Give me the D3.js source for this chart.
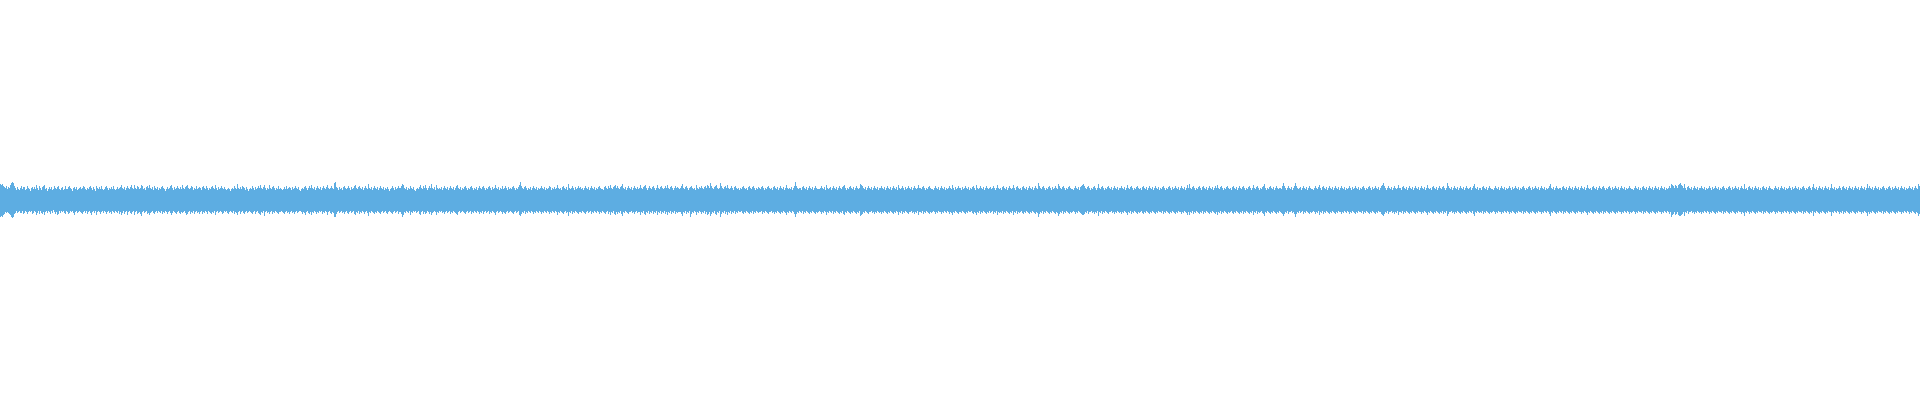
<!DOCTYPE html>
<html>
<head>
<meta charset="utf-8">
<script src="https://cdn.jsdelivr.net/npm/d3@7"></script>
<style>
  html, body { margin: 0; padding: 0; background: #ffffff; overflow: hidden; }
</style>
</head>
<body>
<div id="container"></div>
<script>
// peak amplitude per pixel column, above the centre line
const peakTop = [
  16,15,16,14,13,12,14,11,13,12, 15,17,18,17,14,12,10,13,11,10, 12,14,11,13,13,10,11,14,12,11, 9,12,13,11,13,11,15,12,10,14,
  12,10,13,14,15,11,12,9,11,13, 11,13,10,11,14,12,11,13,14,11, 10,12,13,10,11,14,11,11,13,14, 12,11,9,12,13,11,13,10,11,12,
  13,11,12,14,13,11,10,12,11,13, 14,12,10,13,11,9,14,12,11,13, 11,14,11,10,11,13,14,12,10,12, 11,13,11,14,11,10,11,13,11,12,
  13,15,12,11,13,10,12,14,12,11, 13,15,12,11,15,12,11,14,13,11, 12,15,14,11,12,10,13,14,12,15, 12,11,13,10,14,12,11,13,10,12,
  11,13,14,12,11,9,11,13,11,12, 14,15,12,10,13,11,12,14,12,11, 13,11,15,12,11,13,14,15,12,11, 12,14,13,10,12,11,14,11,12,13,
  12,10,13,14,12,11,14,12,10,12, 11,13,14,12,11,15,12,10,13,11, 12,14,12,11,13,11,10,11,12,11, 9,11,12,11,14,12,11,16,12,11,
  13,11,14,13,12,10,13,11,9,11, 12,11,14,12,10,13,11,12,14,12, 15,12,11,13,15,12,10,12,11,15, 12,11,13,14,12,10,12,11,14,11,
  12,11,10,11,13,11,14,11,12,13, 12,10,13,11,12,14,12,11,13,10, 9,11,12,11,13,14,12,10,12,14, 12,15,12,11,13,10,12,14,12,11,
  13,10,12,14,12,11,13,15,12,11, 12,14,12,11,17,18,13,12,10,13, 11,12,10,13,14,12,11,12,14,12, 10,13,11,12,14,15,12,11,13,14,
  12,11,13,10,12,14,12,11,16,12, 11,13,10,12,14,12,11,13,10,12, 14,12,11,13,10,12,11,13,11,9, 11,12,14,12,10,13,11,12,14,12,
  12,14,16,15,12,11,13,10,12,11, 14,12,11,13,10,9,11,12,11,13, 15,12,11,14,12,15,12,10,12,14, 12,16,12,11,13,10,15,12,11,12,
  11,13,10,12,14,12,11,13,10,12, 14,12,11,13,10,12,14,15,12,11, 13,10,12,11,13,14,12,10,12,11, 13,14,12,10,12,11,13,10,12,14,
  12,11,13,14,12,10,12,11,13,14, 12,10,13,11,12,15,12,11,13,10, 12,11,14,11,12,14,12,10,13,11, 12,11,13,14,12,10,12,11,13,15,
  18,14,12,11,13,14,12,10,12,11, 13,10,12,14,12,11,13,10,12,11, 12,14,12,11,13,10,12,11,12,14, 13,10,12,11,13,11,12,15,12,11,
  12,10,13,14,12,11,13,10,16,12, 11,12,14,12,10,13,11,12,14,12, 13,11,12,10,12,14,12,11,13,10, 12,14,12,11,13,10,12,11,13,14,
  12,11,11,10,13,14,12,11,14,12, 15,12,11,13,14,15,12,14,12,11, 13,14,16,12,11,13,10,12,14,12, 11,13,10,12,14,12,11,13,11,12,
  15,12,11,13,14,15,12,10,12,14, 12,11,13,14,12,10,12,15,12,11, 13,14,12,11,12,14,12,15,12,11, 13,14,12,10,12,14,12,13,12,11,
  12,14,16,12,11,13,14,12,10,12, 13,14,12,11,12,10,15,12,11,13, 12,14,12,11,13,14,12,15,14,12, 17,14,12,11,13,14,15,12,11,12,
  17,14,12,11,13,14,12,15,12,11, 12,14,12,10,13,14,12,11,12,10, 12,11,13,14,12,11,12,10,13,14, 12,11,13,14,12,10,12,11,13,12,
  11,13,14,12,10,12,11,13,14,12, 11,12,10,13,14,12,11,13,10,12, 14,12,11,13,10,12,15,12,11,12, 11,13,10,12,14,18,14,12,11,12,
  12,10,13,14,12,11,13,10,12,14, 12,11,13,10,12,14,12,11,11,11, 12,14,12,11,13,10,15,12,11,12, 13,10,12,14,12,11,13,10,12,14,
  12,11,13,14,15,12,10,12,11,13, 14,12,11,13,10,12,14,12,11,12, 16,15,14,12,11,13,10,12,14,12, 11,13,10,12,14,12,11,13,10,12,
  12,14,12,11,13,10,12,14,12,11, 13,10,12,14,12,11,13,10,15,12, 11,12,14,12,10,13,11,12,14,12, 11,13,10,12,14,12,11,12,15,12,
  12,11,13,14,12,10,12,11,13,14, 12,11,11,10,12,14,12,11,13,10, 12,14,12,11,13,10,12,11,12,14, 12,11,15,12,10,13,11,12,14,12,
  12,10,13,11,12,14,12,11,13,10, 12,11,13,14,12,10,15,12,11,12, 14,12,11,13,10,12,14,12,11,12, 13,11,12,14,12,10,12,15,12,11,
  12,10,13,14,12,11,13,10,12,14, 12,11,12,15,12,10,13,14,12,11, 12,10,13,14,12,11,13,10,12,14, 12,11,13,10,12,14,12,11,17,14,
  12,11,13,14,12,10,12,11,13,14, 12,10,13,11,12,14,12,11,16,14, 12,11,13,14,12,10,12,11,13,14, 12,11,11,10,12,14,12,11,13,10,
  13,14,15,16,14,12,11,13,14,12, 10,12,11,13,14,12,10,12,16,12, 11,13,14,12,10,12,11,13,14,12, 11,13,10,12,14,12,11,13,10,12,
  12,14,12,11,13,10,12,15,12,11, 13,14,12,10,12,11,13,14,12,11, 12,10,13,14,12,11,13,10,12,14, 12,11,13,10,12,14,12,11,13,10,
  12,11,13,14,12,10,12,11,13,14, 12,10,13,11,12,14,12,11,13,10, 12,14,12,11,13,10,12,15,12,16, 12,11,13,14,12,10,12,11,13,14,
  12,10,13,14,12,11,13,10,12,14, 12,11,13,10,12,14,12,15,12,11, 13,14,12,10,12,11,13,14,12,11, 12,10,13,14,12,11,13,10,12,14,
  12,11,13,14,12,10,12,11,13,14, 12,10,12,15,12,11,13,14,12,10, 12,11,13,14,16,12,10,12,11,13, 14,12,11,13,10,12,14,12,11,12,
  12,11,14,17,14,12,10,12,14,12, 11,13,10,12,14,17,14,12,11,12, 13,10,12,14,12,11,13,10,12,14, 12,11,11,10,12,14,12,11,13,15,
  12,10,13,14,12,11,13,10,12,14, 12,11,13,10,12,14,12,11,13,10, 12,14,12,11,13,10,12,11,12,14, 12,10,13,11,12,14,12,11,13,10,
  12,11,13,14,12,10,12,11,13,14, 12,10,13,11,12,14,12,11,13,10, 12,14,15,17,14,12,10,12,14,12, 11,13,10,12,14,12,11,12,15,12,
  12,10,13,14,12,11,13,10,12,14, 12,11,13,10,12,14,12,11,13,10, 12,14,12,11,13,10,12,15,12,11, 12,10,13,14,12,11,13,10,12,14,
  12,11,13,14,12,10,12,17,14,12, 11,13,10,12,14,12,11,13,10,12, 14,12,11,13,10,12,14,12,11,12, 13,10,12,14,16,12,11,13,10,12,
  12,10,13,14,12,11,13,10,12,14, 12,11,11,10,12,14,12,11,13,10, 12,14,12,11,13,10,12,11,12,14, 12,10,13,11,12,14,12,11,13,10,
  12,11,13,14,12,10,12,11,13,14, 12,10,13,11,12,14,12,11,13,10, 12,14,12,11,13,10,12,11,12,14, 16,12,11,13,10,12,14,12,11,12,
  12,10,13,14,12,11,13,10,12,14, 12,11,13,10,12,14,12,11,13,10, 12,14,12,11,13,10,12,15,12,11, 12,10,13,14,12,11,13,10,12,14,
  12,11,13,14,12,10,12,11,13,14, 12,10,13,11,12,14,12,11,13,10, 12,14,12,11,13,10,12,11,12,14, 12,11,11,10,12,14,12,11,13,10,
  12,10,13,14,12,11,13,10,12,14, 12,11,13,10,12,14,12,11,13,10, 12,14,12,11,13,10,12,11,12,14, 12,16,15,14,12,15,14,12,15,16,
  17,15,14,12,16,12,10,13,14,12, 11,13,10,12,14,12,11,13,10,12, 12,14,12,11,13,10,12,11,12,14, 12,10,13,11,12,14,12,11,13,10,
  12,11,13,14,12,10,12,11,13,14, 12,10,13,11,12,14,12,11,13,10, 12,14,12,11,16,11,12,10,13,14, 12,11,13,10,12,14,12,11,13,10,
  12,10,13,14,12,11,13,10,12,14, 12,11,11,10,12,14,12,11,13,10, 12,14,12,11,13,10,12,11,12,14, 12,10,13,11,12,14,12,11,13,10,
  12,11,13,14,12,10,12,11,13,14, 12,10,13,16,12,11,13,10,12,14, 12,11,13,10,12,14,12,11,13,10, 12,16,12,11,13,10,12,11,12,14,
  12,10,13,14,12,11,13,10,12,14, 12,11,13,10,12,14,12,11,13,10, 12,14,12,11,13,10,12,16,12,14, 12,11,13,10,12,14,12,11,13,10,
  12,11,13,14,12,10,12,11,13,14, 12,10,13,11,12,14,12,11,13,10, 12,14,12,11,13,10,12,11,12,14, 12,11,13,10,12,14,12,11,16,14
];

// peak amplitude per pixel column, below the centre line
const peakBottom = [
  17,16,17,15,14,12,13,12,13,14, 15,17,18,17,14,13,11,13,12,11, 13,13,11,14,13,11,12,14,12,11, 12,11,14,13,11,12,15,13,11,14,
  11,13,14,12,15,12,11,13,11,12, 14,11,13,10,12,14,12,15,14,11, 13,11,12,11,13,14,11,12,14,13, 11,12,11,13,15,12,11,13,12,11,
  12,13,14,12,11,13,11,14,12,11, 13,15,12,11,13,11,15,12,11,12, 14,12,11,13,11,12,14,12,11,13, 12,14,11,12,13,11,12,13,11,14,
  12,15,13,11,14,12,11,15,12,11, 13,14,12,11,15,12,11,14,13,12, 14,16,12,11,13,12,11,14,13,15, 13,12,11,13,14,12,11,13,11,12,
  13,11,14,12,13,11,12,14,12,11, 13,15,13,11,12,13,14,12,11,13, 14,12,13,12,11,13,15,14,12,11, 14,12,13,11,14,12,11,13,12,14,
  12,11,14,12,13,11,12,14,11,12, 13,14,12,13,11,15,12,11,13,12, 11,12,14,13,11,12,11,13,14,12, 11,12,13,11,14,12,13,15,12,11,
  14,12,11,13,14,12,11,13,12,11, 12,13,14,12,11,14,12,11,13,14, 15,12,13,11,16,12,11,13,12,14, 12,11,14,12,13,11,12,13,14,12,
  12,11,12,13,14,12,11,13,12,14, 12,11,13,12,14,12,11,13,12,11, 11,12,14,12,13,15,12,11,13,14, 12,15,12,13,11,12,14,12,13,11,
  12,11,14,12,13,11,12,15,12,11, 13,14,12,13,17,17,14,12,11,13, 12,11,13,12,14,12,11,13,14,12, 11,13,12,11,14,15,12,13,11,14,
  12,13,11,12,14,12,11,13,16,12, 13,11,12,13,14,12,13,11,12,13, 14,12,11,13,12,11,13,14,12,11, 12,13,14,12,11,13,12,11,14,12,
  12,14,17,15,12,13,11,12,13,11, 15,12,13,11,12,11,13,12,11,14, 15,12,11,14,12,14,13,11,12,14, 12,15,13,12,11,12,15,12,13,11,
  12,11,13,12,14,12,11,13,12,11, 14,12,13,11,12,13,14,15,12,11, 13,12,11,12,13,14,12,11,13,12, 11,14,12,13,11,12,13,11,12,14,
  12,13,11,14,12,11,13,12,11,14, 12,13,11,12,13,15,12,11,13,12, 11,12,14,12,13,14,12,11,13,12, 11,12,13,14,12,11,13,12,11,15,
  16,14,12,13,11,14,12,13,11,12, 13,11,12,14,12,13,11,12,13,11, 12,14,12,13,11,12,13,11,12,14, 12,13,11,12,13,11,12,15,12,13,
  11,12,13,14,12,11,13,12,16,12, 13,11,14,12,13,11,12,13,14,12, 12,13,11,12,13,14,12,11,13,12, 11,14,12,13,11,12,13,11,12,14,
  12,13,11,12,13,14,12,11,14,12, 15,12,13,11,14,15,12,14,12,13, 11,14,16,12,13,11,12,13,14,12, 12,11,13,12,14,12,11,13,12,12,
  15,12,13,11,14,15,12,13,11,14, 12,13,11,14,12,13,11,15,12,13, 11,14,12,13,11,14,12,15,12,13, 11,14,12,13,11,14,12,13,12,12,
  12,14,16,12,13,11,14,12,13,11, 17,14,12,13,11,12,15,12,13,11, 12,14,12,13,11,14,12,15,14,12, 16,14,12,13,11,14,15,12,13,11,
  17,14,12,13,11,14,12,15,12,13, 11,14,12,13,11,14,12,13,11,12, 12,11,13,14,12,13,11,12,13,14, 12,13,11,14,12,13,11,12,13,12,
  12,11,14,12,13,11,12,13,14,12, 12,11,13,12,14,12,13,11,12,13, 14,12,13,11,12,13,15,12,13,11, 12,13,11,12,14,17,14,12,13,11,
  12,13,11,14,12,13,11,12,13,14, 12,13,11,12,13,14,12,13,12,11, 12,14,12,13,11,12,15,12,13,11, 12,13,11,14,12,13,11,12,13,14,
  12,13,11,14,15,12,13,11,12,13, 14,12,13,11,12,13,14,12,13,11, 16,15,14,12,13,11,12,13,14,12, 12,11,13,12,14,12,13,11,12,13,
  12,14,12,13,11,12,13,14,12,13, 11,12,13,14,12,13,11,12,15,12, 13,11,14,12,13,11,12,13,14,12, 12,11,13,12,14,12,13,11,15,12,
  12,13,11,14,12,13,11,12,13,14, 12,13,12,11,12,14,12,13,11,12, 12,14,12,13,11,12,13,11,12,14, 12,13,15,12,13,11,12,13,14,12,
  12,13,11,12,13,14,12,13,11,12, 12,11,13,14,12,13,15,12,13,11, 14,12,13,11,12,13,14,12,13,11, 13,12,11,14,12,13,11,15,12,13,
  12,13,11,14,12,13,11,12,13,14, 12,13,11,15,12,13,11,14,12,13, 12,11,13,14,12,13,11,12,13,14, 12,13,11,12,13,14,12,13,17,14,
  12,13,11,14,12,13,11,12,13,14, 12,13,11,12,13,14,12,13,16,14, 12,13,11,14,12,13,11,12,13,14, 12,13,12,11,12,14,12,13,11,12,
  13,14,15,15,14,12,13,11,14,12, 12,11,13,12,14,12,13,11,16,12, 13,11,14,12,13,11,12,13,14,12, 12,11,13,12,14,12,13,11,12,13,
  12,14,12,13,11,12,13,15,12,13, 11,14,12,13,11,12,13,14,12,13, 12,11,13,14,12,13,11,12,13,14, 12,13,11,12,13,14,12,13,11,12,
  12,13,11,14,12,13,11,12,13,14, 12,13,11,12,13,14,12,13,11,12, 12,14,12,13,11,12,13,15,12,15, 12,13,11,14,12,13,11,12,13,14,
  12,13,11,14,12,13,11,12,13,14, 12,13,11,12,13,14,12,15,12,13, 11,14,12,13,11,12,13,14,12,13, 12,11,13,14,12,13,11,12,13,14,
  12,13,11,14,12,13,11,12,13,14, 12,13,11,15,12,13,11,14,12,13, 12,11,13,14,16,12,13,11,12,13, 14,12,13,11,12,13,14,12,13,11,
  12,13,14,16,14,12,13,11,14,12, 12,11,13,12,14,17,14,12,13,11, 13,12,11,14,12,13,11,12,13,14, 12,13,12,11,12,14,12,13,11,15,
  12,13,11,14,12,13,11,12,13,14, 12,13,11,12,13,14,12,13,11,12, 12,14,12,13,11,12,13,11,12,14, 12,13,11,12,13,14,12,13,11,12,
  12,13,11,14,12,13,11,12,13,14, 12,13,11,12,13,14,12,13,11,12, 12,14,15,16,14,12,13,11,14,12, 12,11,13,12,14,12,13,11,15,12,
  12,13,11,14,12,13,11,12,13,14, 12,13,11,12,13,14,12,13,11,12, 12,14,12,13,11,12,13,15,12,13, 11,12,13,14,12,13,11,12,13,14,
  12,13,11,14,12,13,11,16,14,12, 12,11,13,12,14,12,13,11,12,13, 14,12,13,11,12,13,14,12,13,11, 12,13,11,14,16,12,13,11,12,13,
  12,13,11,14,12,13,11,12,13,14, 12,13,12,11,12,14,12,13,11,12, 12,14,12,13,11,12,13,11,12,14, 12,13,11,12,13,14,12,13,11,12,
  12,13,11,14,12,13,11,12,13,14, 12,13,11,12,13,14,12,13,11,12, 12,14,12,13,11,12,13,11,12,14, 16,12,13,11,12,13,14,12,13,11,
  12,13,11,14,12,13,11,12,13,14, 12,13,11,12,13,14,12,13,11,12, 12,14,12,13,11,12,13,15,12,13, 11,12,13,14,12,13,11,12,13,14,
  12,13,11,14,12,13,11,12,13,14, 12,13,11,12,13,14,12,13,11,12, 12,14,12,13,11,12,13,11,12,14, 12,13,12,11,12,14,12,13,11,12,
  12,13,11,14,12,13,11,12,13,14, 12,13,11,12,13,14,12,13,11,12, 12,14,12,13,11,12,13,11,12,14, 12,17,15,14,12,15,14,12,15,16,
  16,15,14,12,16,12,13,11,14,12, 12,11,13,12,14,12,13,11,12,13, 12,14,12,13,11,12,13,11,12,14, 12,13,11,12,13,14,12,13,11,12,
  12,13,11,14,12,13,11,12,13,14, 12,13,11,12,13,14,12,13,11,12, 12,14,12,13,16,12,13,11,12,14, 12,13,11,12,13,14,12,13,11,12,
  12,13,11,14,12,13,11,12,13,14, 12,13,12,11,12,14,12,13,11,12, 12,14,12,13,11,12,13,11,12,14, 12,13,11,12,13,14,12,13,11,12,
  12,13,11,14,12,13,11,12,13,14, 12,13,11,16,12,13,11,12,13,14, 12,13,11,12,13,14,12,13,11,12, 12,16,12,13,11,12,13,11,12,14,
  12,13,11,14,12,13,11,12,13,14, 12,13,11,12,13,14,12,13,11,12, 12,14,12,13,11,12,13,16,12,14, 12,13,11,12,13,14,12,13,11,12,
  12,13,11,14,12,13,11,12,13,14, 12,13,11,12,13,14,12,13,11,12, 12,14,12,13,11,12,13,11,12,14, 12,13,11,12,13,14,12,13,16,14
];

const width = 1920;
const height = 400;
const waveColor = "#5dade2";

const svg = d3.select("#container")
  .append("svg")
  .attr("width", width)
  .attr("height", height)
  .attr("viewBox", `0 0 ${width} ${height}`);

// one column per sample, amplitude axis centred on the middle of the frame
const n = Math.min(peakTop.length, peakBottom.length);
const scaleX = d3.scaleLinear()
  .domain([0, n])
  .range([0, width]);
const scaleY = d3.scaleLinear()
  .domain([-200, 200])
  .range([height, 0]);

// repeat the last column so the step curve closes at the right edge
const idx = d3.range(n + 1).map(i => Math.min(i, n - 1));

const area = d3.area()
  .curve(d3.curveStepAfter)
  .x((d, i) => scaleX(i))
  .y0(d => scaleY(-peakBottom[d]))
  .y1(d => scaleY(peakTop[d]));

svg.append("path")
  .datum(idx)
  .attr("fill", waveColor)
  .attr("shape-rendering", "crispEdges")
  .attr("d", area);
</script>
</body>
</html>
